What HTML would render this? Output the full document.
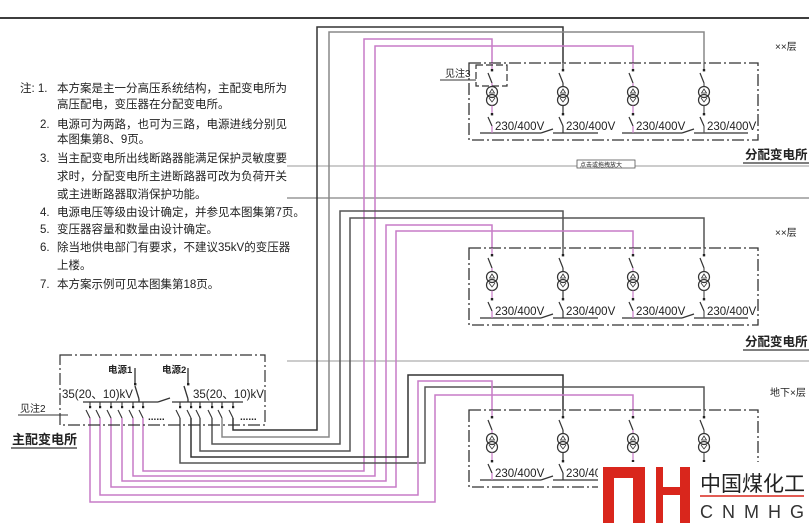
<!DOCTYPE html>
<html><head><meta charset="utf-8"><style>
html,body{margin:0;padding:0;background:#fff;}
svg{display:block;}
text{font-family:"Liberation Sans","Noto Sans CJK SC",sans-serif;fill:#222;}
</style></head><body>
<svg width="809" height="530" viewBox="0 0 809 530" xmlns="http://www.w3.org/2000/svg">
<defs>
<g id="col" fill="none" stroke-width="1.2">
  <line x1="0" y1="0" x2="0" y2="8" stroke="currentColor"/>
  <rect x="-1.2" y="6" width="2.4" height="2.4" fill="#222" stroke="none"/>
  <line x1="-4" y1="10" x2="0" y2="20" stroke="#333"/>
  <line x1="0" y1="20" x2="0" y2="23.5" stroke="currentColor"/>
  <circle cx="0" cy="29" r="5.5" stroke="#333"/>
  <circle cx="0" cy="37" r="5.5" stroke="#333"/>
  <path d="M-2.5 30 L0 26 L2.5 30 Z M-3 35 L0 39 L3 35" stroke="#333" stroke-width="0.8"/>
  <line x1="0" y1="42.5" x2="0" y2="51" stroke="currentColor"/>
  <rect x="-1.2" y="50" width="2.4" height="2.4" fill="#222" stroke="none"/>
  <line x1="-4" y1="54" x2="0" y2="63" stroke="#333"/>
  <line x1="0" y1="63" x2="0" y2="70" stroke="currentColor"/>
</g>
<g id="box">
  <rect x="469" y="0" width="289" height="77" fill="none" stroke="#333" stroke-width="1.3" stroke-dasharray="12,3,2,3"/>
  <line x1="480" y1="70" x2="541" y2="70" stroke="#333" stroke-width="1.3"/>
  <line x1="541" y1="70" x2="553" y2="66" stroke="#333" stroke-width="1.2"/>
  <line x1="553" y1="70" x2="598" y2="70" stroke="#333" stroke-width="1.3"/>
  <line x1="622" y1="70" x2="682" y2="70" stroke="#333" stroke-width="1.3"/>
  <line x1="682" y1="70" x2="694" y2="66" stroke="#333" stroke-width="1.2"/>
  <line x1="694" y1="70" x2="748" y2="70" stroke="#333" stroke-width="1.3"/>
  <g font-size="11.5">
  <text x="495" y="67">230/400V</text><text x="566" y="67">230/400V</text>
  <text x="636" y="67">230/400V</text><text x="707" y="67">230/400V</text>
  </g>
</g>
</defs>

<!-- top border -->
<line x1="0" y1="18" x2="809" y2="18" stroke="#222" stroke-width="1.8"/>

<!-- horizontal thin lines -->
<line x1="287" y1="166" x2="809" y2="166" stroke="#999" stroke-width="1"/>
<line x1="287" y1="198" x2="809" y2="198" stroke="#666" stroke-width="1"/>
<line x1="287" y1="361" x2="809" y2="361" stroke="#999" stroke-width="1"/>

<!-- notes -->
<g font-size="11.5">
<text x="20" y="92">注: 1.</text><text x="57" y="92">本方案是主一分高压系统结构，主配变电所为</text>
<text x="57" y="108">高压配电，变压器在分配变电所。</text>
<text x="40" y="128">2.</text><text x="57" y="128">电源可为两路，也可为三路，电源进线分别见</text>
<text x="57" y="143">本图集第8、9页。</text>
<text x="40" y="162">3.</text><text x="57" y="162">当主配变电所出线断路器能满足保护灵敏度要</text>
<text x="57" y="180">求时，分配变电所主进断路器可改为负荷开关</text>
<text x="57" y="198">或主进断路器取消保护功能。</text>
<text x="40" y="216">4.</text><text x="57" y="216">电源电压等级由设计确定，并参见本图集第7页。</text>
<text x="40" y="233">5.</text><text x="57" y="233">变压器容量和数量由设计确定。</text>
<text x="40" y="251">6.</text><text x="57" y="251">除当地供电部门有要求，不建议35kV的变压器</text>
<text x="57" y="269">上楼。</text>
<text x="40" y="288">7.</text><text x="57" y="288">本方案示例可见本图集第18页。</text>
</g>

<!-- wiring -->
<g fill="none" stroke-width="1.5">
  <!-- to top box -->
  <polyline points="233,418 233,430 317,430 317,27 563,27 563,63" stroke="#333"/>
  <polyline points="222,418 222,437 329,437 329,32 704,32 704,63" stroke="#888"/>
  <polyline points="143,418 143,471 364,471 364,39 492,39 492,63" stroke="#c77cc7"/>
  <polyline points="133,418 133,476 375,476 375,46 633,46 633,63" stroke="#c77cc7"/>
  <!-- to middle box -->
  <polyline points="212,418 212,444 340,444 340,211 563,211 563,248" stroke="#555"/>
  <polyline points="200,418 200,451 350,451 350,218 704,218 704,248" stroke="#555"/>
  <polyline points="122,418 122,481 386,481 386,225 492,225 492,248" stroke="#c77cc7"/>
  <polyline points="111,418 111,487 396,487 396,231 633,231 633,248" stroke="#c77cc7"/>
  <!-- to bottom box -->
  <polyline points="191,418 191,457 408,457 408,375 563,375 563,410" stroke="#333"/>
  <polyline points="180,418 180,463 425,463 425,387 704,387 704,410" stroke="#555"/>
  <polyline points="100,418 100,495 418,495 418,381 492,381 492,410" stroke="#c77cc7"/>
  <polyline points="90,418 90,502 435,502 435,395 633,395 633,410" stroke="#c77cc7"/>
</g>

<!-- distribution boxes -->
<g transform="translate(0,63)"><use href="#box"/>
  <use href="#col" x="492" color="#c77cc7"/><use href="#col" x="563" color="#333"/>
  <use href="#col" x="633" color="#c77cc7"/><use href="#col" x="704" color="#555"/>
</g>
<g transform="translate(0,248)"><use href="#box"/>
  <use href="#col" x="492" color="#c77cc7"/><use href="#col" x="563" color="#333"/>
  <use href="#col" x="633" color="#c77cc7"/><use href="#col" x="704" color="#555"/>
</g>
<g transform="translate(0,410)"><use href="#box"/>
  <use href="#col" x="492" color="#c77cc7"/><use href="#col" x="563" color="#333"/>
  <use href="#col" x="633" color="#c77cc7"/><use href="#col" x="704" color="#555"/>
</g>

<!-- note 3 box -->
<rect x="476" y="65" width="31" height="21" fill="none" stroke="#333" stroke-width="1.2" stroke-dasharray="7,3"/>
<text x="445" y="77" font-size="10">见注3</text>
<line x1="440" y1="80" x2="476" y2="80" stroke="#333" stroke-width="1"/>

<!-- labels right -->
<text x="775" y="50" font-size="10">××层</text>
<text x="775" y="236" font-size="10">××层</text>
<text x="770" y="396" font-size="10">地下×层</text>
<text x="745" y="159" font-size="12.5" font-weight="bold">分配变电所</text>
<line x1="743" y1="163" x2="809" y2="163" stroke="#333" stroke-width="1.2"/>
<text x="745" y="346" font-size="12.5" font-weight="bold">分配变电所</text>
<line x1="743" y1="350" x2="809" y2="350" stroke="#333" stroke-width="1.2"/>
<rect x="577" y="160" width="58" height="8" fill="#fff" stroke="#555" stroke-width="0.8"/>
<text x="580" y="167" font-size="6">点击或拖拽放大</text>

<!-- main HV box -->
<rect x="60" y="355" width="205" height="70" fill="none" stroke="#333" stroke-width="1.2" stroke-dasharray="12,3,2,3"/>
<g stroke="#333" stroke-width="1.3" fill="none">
  <line x1="83" y1="402" x2="158" y2="402"/>
  <line x1="158" y1="402" x2="170" y2="398"/>
  <line x1="172" y1="402" x2="243" y2="402"/>
  <line x1="135" y1="368" x2="135" y2="384"/>
  <line x1="135" y1="386" x2="139" y2="399"/><line x1="139" y1="399" x2="139" y2="402"/>
  <line x1="188" y1="368" x2="188" y2="384"/>
  <line x1="184" y1="386" x2="188" y2="399"/><line x1="188" y1="399" x2="188" y2="402"/>
</g>
<rect x="134" y="383" width="2.4" height="2.4" fill="#222"/>
<rect x="187" y="383" width="2.4" height="2.4" fill="#222"/>
<g stroke="#333" stroke-width="1.1">
  <!-- feeder switches -->
  <path d="M90 402 V406 M86 410 L90 418 M100 402 V406 M96 410 L100 418 M111 402 V406 M107 410 L111 418 M122 402 V406 M118 410 L122 418 M133 402 V406 M129 410 L133 418 M143 402 V406 M139 410 L143 418
           M180 402 V406 M176 410 L180 418 M191 402 V406 M187 410 L191 418 M200 402 V406 M196 410 L200 418 M212 402 V406 M208 410 L212 418 M222 402 V406 M218 410 L222 418 M233 402 V406 M229 410 L233 418"/>
</g>
<g fill="#222">
  <rect x="89" y="406" width="2.2" height="2.2"/><rect x="99" y="406" width="2.2" height="2.2"/><rect x="110" y="406" width="2.2" height="2.2"/>
  <rect x="121" y="406" width="2.2" height="2.2"/><rect x="132" y="406" width="2.2" height="2.2"/><rect x="142" y="406" width="2.2" height="2.2"/>
  <rect x="179" y="406" width="2.2" height="2.2"/><rect x="190" y="406" width="2.2" height="2.2"/><rect x="199" y="406" width="2.2" height="2.2"/>
  <rect x="211" y="406" width="2.2" height="2.2"/><rect x="221" y="406" width="2.2" height="2.2"/><rect x="232" y="406" width="2.2" height="2.2"/>
</g>
<text x="148" y="420" font-size="10" font-weight="bold">......</text>
<text x="240" y="420" font-size="10" font-weight="bold">......</text>
<text x="62" y="398" font-size="11.5">35(20、10)kV</text>
<text x="193" y="398" font-size="11.5">35(20、10)kV</text>
<text x="108" y="373" font-size="9.5" font-weight="bold">电源1</text>
<text x="162" y="373" font-size="9.5" font-weight="bold">电源2</text>
<text x="20" y="412" font-size="10">见注2</text>
<line x1="18" y1="415" x2="68" y2="415" stroke="#333" stroke-width="1"/>
<text x="12" y="444" font-size="13" font-weight="bold">主配变电所</text>
<line x1="11" y1="448" x2="77" y2="448" stroke="#333" stroke-width="1.3"/>

<!-- logo -->
<rect x="598" y="462" width="211" height="68" fill="#fff"/>
<g fill="#d9261c">
  <rect x="603" y="467" width="11" height="56"/>
  <rect x="603" y="467" width="42" height="11"/>
  <rect x="633" y="467" width="12" height="56"/>
  <rect x="656" y="467" width="7" height="56"/>
  <rect x="656" y="487" width="34" height="8"/>
  <rect x="680" y="467" width="10" height="56"/>
</g>
<text x="700" y="491" font-size="21" style="fill:#222">中国煤化工</text>
<line x1="700" y1="496" x2="804" y2="496" stroke="#d9261c" stroke-width="1.5"/>
<text x="700" y="518" font-size="18" letter-spacing="9" style="fill:#333">CNMHG</text>
</svg>
</body></html>
